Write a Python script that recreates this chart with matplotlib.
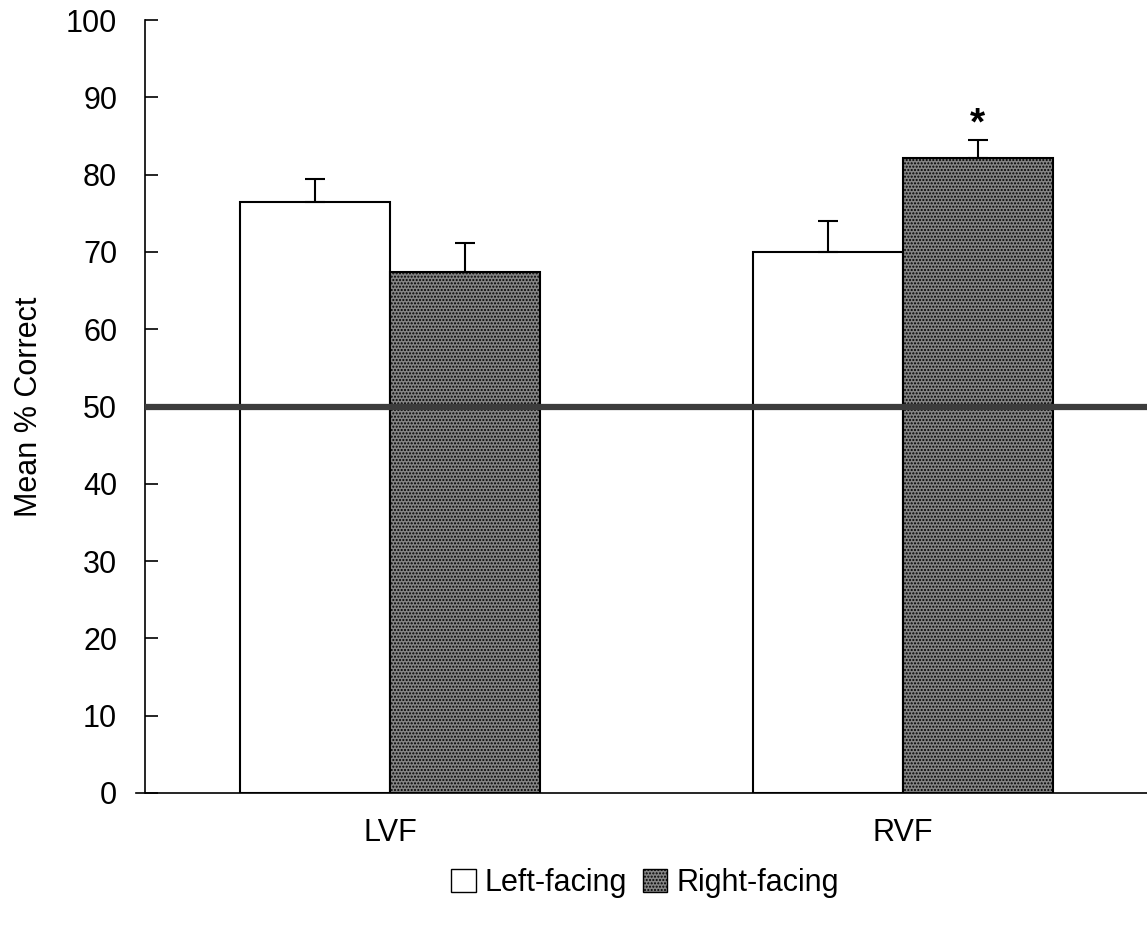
import matplotlib
matplotlib.use("Agg")
import matplotlib.pyplot as plt
from matplotlib.patches import Patch
import numpy as np

plt.rcParams['font.family'] = ['Liberation Sans', 'DejaVu Sans']
plt.rcParams['hatch.color'] = '#333333'

groups = ["LVF", "RVF"]
series = ["Left-facing", "Right-facing"]
left_vals = [76.5, 70.0]
left_err = [2.9, 4.0]
right_vals = [67.4, 82.2]
right_err = [3.7, 2.3]
chance = 50
yticks = list(range(0, 101, 10))

fig = plt.figure(figsize=(11.47, 9.34), dpi=100)
ax = fig.add_axes([145/1147, 1-793/934, 1-145/1147, (793-20)/934])

x = np.arange(len(groups))
w = 0.292
ax.bar(x - w/2, left_vals, w, color='white', edgecolor='black', linewidth=1.5, zorder=2)
ax.bar(x + w/2, right_vals, w, color='#858585', edgecolor='black', linewidth=1.5,
       hatch='.....', zorder=2)
ax.errorbar(x - w/2, left_vals, yerr=[[0]*2, left_err], fmt='none', ecolor='black',
            elinewidth=1.5, capsize=7, capthick=1.5, zorder=3)
ax.errorbar(x + w/2, right_vals, yerr=[[0]*2, right_err], fmt='none', ecolor='black',
            elinewidth=1.5, capsize=7, capthick=1.5, zorder=3)
ax.axhline(chance, color='#3c3c3c', linewidth=4.5, zorder=4)
ax.text(x[1] + w/2, right_vals[1] + right_err[1] + 2.0, '*', ha='center', va='center',
        fontsize=28, fontweight='bold')

ax.set_xlim(-0.478, 1.476)
ax.set_ylim(0, 100)
ax.set_yticks(yticks)
ax.set_xticks(x)
ax.set_xticklabels(groups)
ax.tick_params(axis='x', length=0, pad=18, labelsize=22)
ax.tick_params(axis='y', direction='in', length=9, width=1.2, pad=20, labelsize=22)
ax.spines['top'].set_visible(False)
ax.spines['right'].set_visible(False)
ax.spines['left'].set_linewidth(1.2)
ax.spines['bottom'].set_linewidth(1.2)
ax.spines['bottom'].set_bounds(-0.495, 1.476)
ax.set_ylabel('Mean % Correct', fontsize=22, labelpad=16)

handles = [Patch(facecolor='white', edgecolor='black', linewidth=1.0),
           Patch(facecolor='#858585', edgecolor='black', linewidth=1.0, hatch='.....')]
fig.legend(handles, series, loc='center', bbox_to_anchor=(645/1147, 1-883/934),
           ncol=2, frameon=False, fontsize=22, handlelength=0.8, handleheight=0.8,
           handletextpad=0.3, columnspacing=0.5)

fig.savefig('out.png', dpi=100)
